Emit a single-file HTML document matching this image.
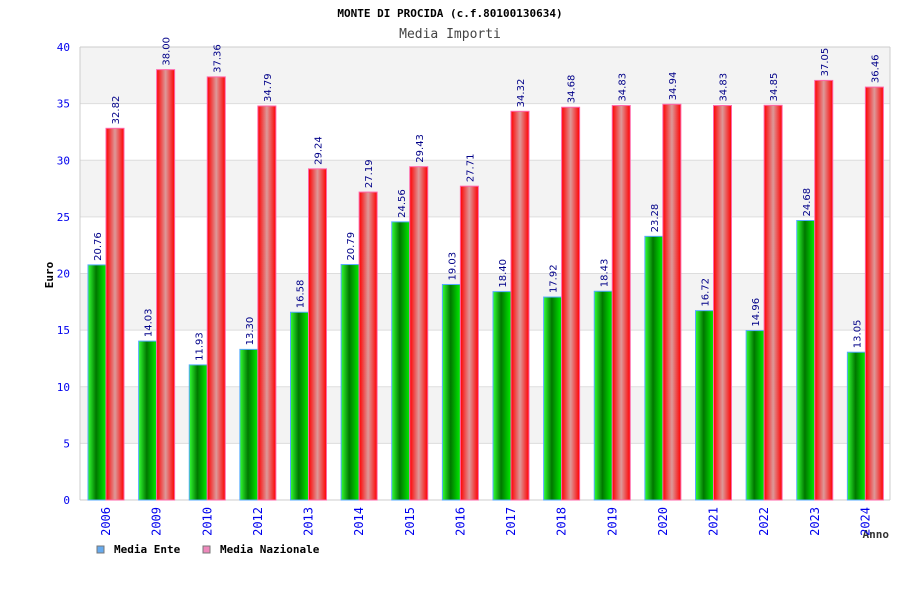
<!DOCTYPE html>
<html><head><meta charset="utf-8"><style>
body{margin:0;background:#fff}
svg{display:block;font-family:"DejaVu Sans Mono","Liberation Mono",monospace}
</style></head><body>
<svg id="c" width="900" height="600">
<defs>
<linearGradient id="gg" x1="0" x2="1"><stop offset="0" stop-color="#33ff33"/><stop offset="0.45" stop-color="#007700"/><stop offset="1" stop-color="#00ee00"/></linearGradient>
<linearGradient id="rg" x1="0" x2="1"><stop offset="0" stop-color="#ff0000"/><stop offset="0.5" stop-color="#dd9999"/><stop offset="1" stop-color="#ff0000"/></linearGradient>
</defs>
<text x="450" y="17" text-anchor="middle" font-size="11" font-weight="bold" fill="#000">MONTE DI PROCIDA (c.f.80100130634)</text>
<text x="450" y="38" text-anchor="middle" font-size="13" fill="#444">Media Importi</text>
<text transform="translate(53,275) rotate(-90)" text-anchor="middle" font-size="11" font-weight="bold">Euro</text>
<text x="889" y="538" text-anchor="end" font-size="11" font-weight="bold" fill="#333">Anno</text>
<g id="grid"></g><g id="bars"></g>
<g>
<rect x="97" y="546" width="7" height="7" fill="#66aaee" stroke="#777"/>
<text x="114" y="553" font-size="11" font-weight="bold">Media Ente</text>
<rect x="203" y="546" width="7" height="7" fill="#ee88bb" stroke="#777"/>
<text x="220" y="553" font-size="11" font-weight="bold">Media Nazionale</text>
</g>
</svg>
<script>
const categories=["2006","2009","2010","2012","2013","2014","2015","2016","2017","2018","2019","2020","2021","2022","2023","2024"];
const ente=[20.76,14.03,11.93,13.30,16.58,20.79,24.56,19.03,18.40,17.92,18.43,23.28,16.72,14.96,24.68,13.05];
const nazionale=[32.82,38.00,37.36,34.79,29.24,27.19,29.43,27.71,34.32,34.68,34.83,34.94,34.83,34.85,37.05,36.46];
const yTicks=[0,5,10,15,20,25,30,35,40];
const NS="http://www.w3.org/2000/svg";
const L=80,R=890,T=47,B=500,yMax=40;
const y=v=>B-(v/yMax)*(B-T);
const gw=(R-L)/categories.length;
const x=i=>L+i*gw;
function mk(t,a,p){const e=document.createElementNS(NS,t);for(const k in a)e.setAttribute(k,a[k]);p.appendChild(e);return e;}
const grid=document.getElementById('grid'),bars=document.getElementById('bars');
for(let i=0;i<yTicks.length-1;i++){
 const r=mk('rect',{x:L,y:y(yTicks[i+1]),width:R-L,height:y(yTicks[i])-y(yTicks[i+1]),fill:i%2?'#f3f3f3':'#fff'},grid);
 
 
}
yTicks.forEach(t=>{
 const l=mk('line',{x1:L,x2:R,y1:y(t),y2:y(t),stroke:'#ddd'},grid);
 
 
 const tx=mk('text',{x:70,y:y(t)+4,'text-anchor':'end','font-size':11,fill:'#0000ee'},grid);
 tx.textContent=t;
 
 
});
mk('line',{x1:L,x2:L,y1:T,y2:B,stroke:'#ccc'},grid);
mk('line',{x1:R,x2:R,y1:T,y2:B,stroke:'#ccc'},grid);
mk('line',{x1:L,x2:R,y1:T,y2:T,stroke:'#ccc'},grid);
mk('line',{x1:L,x2:R,y1:B,y2:B,stroke:'#ccc'},grid);
categories.forEach((c,i)=>{
 const gx=x(i)+8;
 const g=mk('rect',{x:gx,y:y(ente[i]),width:18,height:B-y(ente[i]),fill:'url(#gg)',stroke:'#55aaff','stroke-width':1},bars);
 
 
 const r=mk('rect',{x:gx+18,y:y(nazionale[i]),width:18,height:B-y(nazionale[i]),fill:'url(#rg)',stroke:'#ff66aa','stroke-width':1},bars);
 
 
 [[gx+9,ente[i],'value-label-ente'],[gx+27,nazionale[i],'value-label-nazionale']].forEach(([cx,v,n])=>{
  const t=mk('text',{transform:`translate(${cx+4},${y(v)-4}) rotate(-90)`,'font-size':10,fill:'#000088','font-family':'DejaVu Sans, sans-serif'},bars);
  t.textContent=v.toFixed(2);
  
  
 });
 const xl=mk('text',{transform:`translate(${gx+22},${507}) rotate(-90)`,'text-anchor':'end','font-size':12,fill:'#0000ee'},bars);
 xl.textContent=c;
 
 
});
</script>
</body></html>
